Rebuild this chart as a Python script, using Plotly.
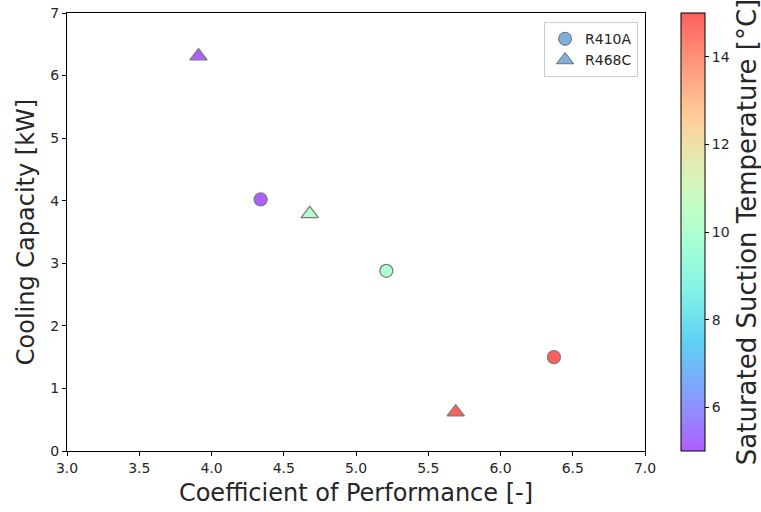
import plotly.graph_objects as go
import numpy as np

# Data
cop_r410a = [4.34, 5.21, 6.37]
cap_r410a = [4.02, 2.88, 1.50]
temp_r410a = [5, 10, 15]

cop_r468c = [3.91, 4.68, 5.69]
cap_r468c = [6.31, 3.79, 0.62]
temp_r468c = [5, 10, 15]

xticks = [3.0, 3.5, 4.0, 4.5, 5.0, 5.5, 6.0, 6.5, 7.0]
yticks = [0, 1, 2, 3, 4, 5, 6, 7]
cticks = [6, 8, 10, 12, 14]

ALPHA = 0.63

def rainbow(x):
    r = min(1.0, abs(2 * x - 0.5))
    g = np.sin(np.pi * x)
    b = np.cos(np.pi * x / 2)
    return r, g, b

def blend(c, a=ALPHA):
    return tuple(int(round(255 * (a * v + (1 - a)))) for v in c)

colorscale = []
for t in np.linspace(0, 1, 41):
    r, g, b = blend(rainbow(t))
    colorscale.append([float(t), f"rgb({r},{g},{b})"])

font = "DejaVu Sans"
txt = "#262626"
edge = "rgb(125,125,125)"
fig = go.Figure()

fig.add_trace(go.Scatter(
    x=cop_r410a, y=cap_r410a, mode="markers", showlegend=False,
    marker=dict(symbol="circle", size=13, color=temp_r410a, colorscale=colorscale,
                cmin=5, cmax=15, line=dict(color=edge, width=1.3),
                colorbar=dict(
                    x=1.062, xanchor="left", xpad=0, y=0.5, yanchor="middle",
                    len=1, lenmode="fraction", ypad=0, thickness=24,
                    outlinewidth=1, outlinecolor="black",
                    tickvals=cticks, ticks="outside", ticklen=4, tickcolor="black",
                    tickfont=dict(family=font, size=14, color=txt),
                    title=dict(text="Saturated Suction Temperature [°C]", side="right",
                               font=dict(family=font, size=26, color=txt)),
                )),
))
fig.add_trace(go.Scatter(
    x=cop_r468c, y=cap_r468c, mode="markers", showlegend=False,
    marker=dict(symbol="triangle-up", size=15, color=temp_r468c, colorscale=colorscale,
                cmin=5, cmax=15, showscale=False,
                line=dict(color=edge, width=1.3)),
))

legend_color = "rgb(129,175,213)"
fig.add_trace(go.Scatter(x=[None], y=[None], mode="markers", name="R410A",
                         marker=dict(symbol="circle", size=13, color=legend_color,
                                     line=dict(color="rgb(100,110,130)", width=1))))
fig.add_trace(go.Scatter(x=[None], y=[None], mode="markers", name="R468C",
                         marker=dict(symbol="triangle-up", size=15, color=legend_color,
                                     line=dict(color="rgb(100,110,130)", width=1))))

axis_common = dict(showgrid=False, zeroline=False, showline=True, linecolor="black",
                   linewidth=1, mirror=True, ticks="outside", ticklen=4, tickcolor="black",
                   tickfont=dict(family=font, size=14, color=txt))

fig.update_xaxes(range=[3, 7], tickvals=xticks, ticktext=[f"{v:.1f}" for v in xticks],
                 title=dict(text="Coefficient of Performance [-]",
                            font=dict(family=font, size=24, color=txt), standoff=9),
                 **axis_common)
fig.update_yaxes(range=[0, 7], tickvals=yticks,
                 title=dict(text="Cooling Capacity [kW]",
                            font=dict(family=font, size=24, color=txt), standoff=8),
                 **axis_common)

fig.update_layout(
    width=761, height=512,
    margin=dict(l=67, r=116, t=13, b=61, autoexpand=False),
    plot_bgcolor="white", paper_bgcolor="white",
    legend=dict(x=0.988, y=0.979, xanchor="right", yanchor="top",
                bgcolor="rgba(255,255,255,0.8)", bordercolor="#cccccc", borderwidth=1,
                font=dict(family=font, size=14, color=txt)),
)

fig.write_html("out.html")
